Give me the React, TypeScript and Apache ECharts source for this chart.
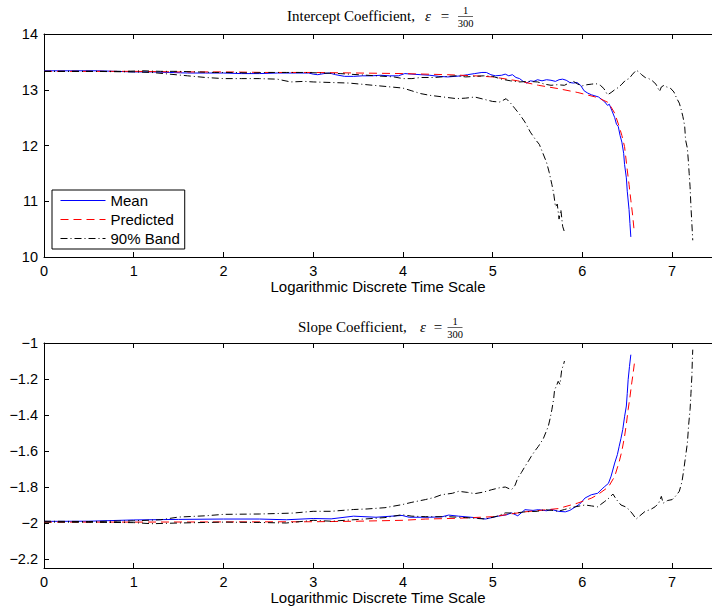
import React, { useEffect, useRef } from 'react';
import * as echarts from 'echarts';

// Tick positions
const xTicks = [0, 1, 2, 3, 4, 5, 6, 7];
const interceptTicks = [10, 11, 12, 13, 14];
const slopeTicks = [-2.2, -2, -1.8, -1.6, -1.4, -1.2, -1];

// Intercept coefficient: [log time, value]
const interceptMean = [
  [0, 13.34], [0.3, 13.34], [0.6, 13.34], [0.8, 13.33], [1.0, 13.32], [1.2, 13.32], [1.4, 13.31],
  [1.6, 13.3], [1.8, 13.3], [2.0, 13.3], [2.2, 13.29], [2.4, 13.29], [2.6, 13.3], [2.8, 13.3],
  [2.95, 13.3], [3.0, 13.28], [3.05, 13.27], [3.12, 13.29], [3.18, 13.3], [3.25, 13.27], [3.35, 13.24],
  [3.45, 13.24], [3.55, 13.25], [3.65, 13.25], [3.75, 13.26], [3.85, 13.25], [3.95, 13.25], [4.02, 13.29],
  [4.1, 13.28], [4.2, 13.27], [4.3, 13.26], [4.4, 13.24], [4.5, 13.23], [4.58, 13.24], [4.65, 13.25],
  [4.72, 13.27], [4.8, 13.29], [4.88, 13.31], [4.93, 13.31], [4.98, 13.27], [5.03, 13.25], [5.1, 13.26],
  [5.14, 13.28], [5.18, 13.25], [5.22, 13.27], [5.26, 13.22], [5.3, 13.2], [5.34, 13.15], [5.38, 13.12],
  [5.42, 13.16], [5.46, 13.15], [5.5, 13.18], [5.55, 13.16], [5.6, 13.18], [5.65, 13.17], [5.7, 13.15],
  [5.74, 13.18], [5.78, 13.19], [5.82, 13.17], [5.86, 13.13], [5.9, 13.12], [5.94, 13.13], [5.98, 13.08],
  [6.02, 12.98], [6.06, 12.94], [6.1, 12.91], [6.14, 12.89], [6.18, 12.87], [6.22, 12.82], [6.25, 12.78],
  [6.28, 12.72], [6.3, 12.74], [6.33, 12.62], [6.36, 12.5], [6.38, 12.38], [6.4, 12.34], [6.42, 12.18],
  [6.44, 12.06], [6.46, 11.86], [6.47, 11.66], [6.49, 11.42], [6.5, 11.18], [6.52, 10.85], [6.53, 10.6],
  [6.54, 10.36],
];
const interceptPredicted = [
  [0, 13.33], [0.5, 13.33], [1, 13.33], [1.5, 13.32], [2, 13.32], [2.5, 13.31], [3, 13.31], [3.5, 13.3],
  [4, 13.29], [4.5, 13.27], [4.8, 13.25], [5, 13.23], [5.28, 13.16], [5.51, 13.08], [5.73, 13.02],
  [5.95, 12.95], [6.17, 12.86], [6.29, 12.77], [6.36, 12.58], [6.41, 12.34], [6.44, 12.18], [6.47, 11.98],
  [6.5, 11.56], [6.52, 11.3], [6.54, 11.02], [6.56, 10.75], [6.575, 10.5],
];
const interceptBandHigh = [
  [0, 13.33], [0.5, 13.33], [0.9, 13.33], [1.1, 13.34], [1.3, 13.33], [1.5, 13.33], [1.7, 13.32],
  [1.9, 13.31], [2.1, 13.31], [2.3, 13.3], [2.5, 13.31], [2.7, 13.31], [2.9, 13.31], [3.1, 13.3],
  [3.3, 13.29], [3.5, 13.27], [3.7, 13.25], [3.9, 13.23], [4.0, 13.2], [4.1, 13.2], [4.2, 13.22],
  [4.35, 13.22], [4.5, 13.24], [4.6, 13.25], [4.7, 13.23], [4.8, 13.24], [4.9, 13.25], [5.0, 13.24],
  [5.1, 13.19], [5.2, 13.16], [5.3, 13.14], [5.4, 13.15], [5.5, 13.14], [5.58, 13.1], [5.65, 13.08],
  [5.72, 13.09], [5.8, 13.08], [5.85, 13.12], [5.9, 13.15], [5.95, 13.1], [6.0, 13.07], [6.05, 13.09],
  [6.1, 13.1], [6.15, 13.11], [6.2, 13.08], [6.24, 13.02], [6.28, 12.91], [6.32, 12.95], [6.36, 13.0],
  [6.4, 13.04], [6.44, 13.1], [6.48, 13.17], [6.52, 13.2], [6.56, 13.28], [6.6, 13.35], [6.63, 13.32],
  [6.66, 13.27], [6.7, 13.22], [6.74, 13.2], [6.78, 13.16], [6.82, 13.1], [6.86, 12.97], [6.88, 13.05],
  [6.91, 13.08], [6.94, 13.05], [6.98, 13.03], [7.02, 12.96], [7.05, 12.85], [7.08, 12.76], [7.1, 12.65],
  [7.12, 12.52], [7.14, 12.35], [7.15, 12.1], [7.17, 11.95], [7.18, 11.74], [7.19, 11.5], [7.2, 11.26],
  [7.21, 10.9], [7.22, 10.6], [7.23, 10.3],
];
const interceptBandLow = [
  [0, 13.33], [0.5, 13.33], [1.0, 13.32], [1.2, 13.31], [1.4, 13.28], [1.6, 13.25], [1.8, 13.22],
  [2.0, 13.2], [2.2, 13.2], [2.4, 13.2], [2.6, 13.19], [2.75, 13.14], [2.9, 13.15], [3.0, 13.14],
  [3.2, 13.13], [3.4, 13.12], [3.6, 13.09], [3.8, 13.06], [4.0, 13.03], [4.1, 12.98], [4.2, 12.93],
  [4.3, 12.9], [4.45, 12.87], [4.6, 12.84], [4.7, 12.85], [4.8, 12.87], [4.9, 12.83], [5.0, 12.79],
  [5.08, 12.78], [5.15, 12.84], [5.2, 12.76], [5.25, 12.66], [5.3, 12.56], [5.36, 12.42], [5.42, 12.24],
  [5.48, 12.1], [5.52, 12.02], [5.56, 11.86], [5.6, 11.7], [5.63, 11.52], [5.66, 11.3], [5.68, 11.14],
  [5.7, 10.9], [5.72, 10.95], [5.74, 10.68], [5.76, 10.85], [5.78, 10.55], [5.8, 10.45],
];

// Slope coefficient: [log time, value]
const slopeMean = [
  [0, -1.991], [0.5, -1.99], [1, -1.983], [1.5, -1.98], [2, -1.978], [2.4, -1.978], [2.7, -1.982],
  [3.0, -1.975], [3.2, -1.977], [3.45, -1.962], [3.7, -1.968], [3.99, -1.958], [4.07, -1.968],
  [4.3, -1.968], [4.43, -1.966], [4.51, -1.956], [4.62, -1.962], [4.8, -1.97], [4.92, -1.978],
  [5.06, -1.962], [5.15, -1.955], [5.21, -1.944], [5.28, -1.96], [5.36, -1.926], [5.45, -1.93],
  [5.51, -1.926], [5.6, -1.932], [5.66, -1.925], [5.73, -1.935], [5.81, -1.938], [5.86, -1.93],
  [5.92, -1.911], [5.97, -1.895], [6.03, -1.861], [6.1, -1.843], [6.17, -1.835], [6.22, -1.81],
  [6.25, -1.797], [6.29, -1.78], [6.32, -1.74], [6.36, -1.667], [6.39, -1.62], [6.41, -1.574],
  [6.43, -1.53], [6.45, -1.48], [6.47, -1.41], [6.49, -1.35], [6.5, -1.28], [6.51, -1.204],
  [6.525, -1.13], [6.54, -1.065],
];
const slopePredicted = [
  [0, -1.995], [1, -1.995], [2, -1.994], [3, -1.993], [3.5, -1.99], [4, -1.985], [4.25, -1.978],
  [4.6, -1.974], [5, -1.965], [5.36, -1.938], [5.73, -1.92], [5.95, -1.889], [6.1, -1.862],
  [6.17, -1.843], [6.29, -1.8], [6.36, -1.741], [6.41, -1.66], [6.44, -1.6], [6.47, -1.519],
  [6.49, -1.45], [6.51, -1.37], [6.53, -1.3], [6.55, -1.222], [6.565, -1.17], [6.58, -1.111],
];
const slopeBandHigh = [
  [0, -1.99], [0.5, -1.992], [1, -1.988], [1.3, -1.982], [1.5, -1.967], [1.8, -1.96], [2.0, -1.952],
  [2.4, -1.95], [2.77, -1.945], [3.0, -1.935], [3.2, -1.935], [3.45, -1.925], [3.6, -1.922],
  [3.8, -1.915], [3.99, -1.898], [4.1, -1.885], [4.25, -1.87], [4.35, -1.858], [4.43, -1.843],
  [4.55, -1.835], [4.62, -1.824], [4.72, -1.83], [4.8, -1.837], [4.9, -1.828], [4.99, -1.815],
  [5.07, -1.805], [5.14, -1.8], [5.21, -1.815], [5.25, -1.79], [5.28, -1.75], [5.32, -1.72],
  [5.36, -1.686], [5.4, -1.655], [5.43, -1.63], [5.47, -1.6], [5.51, -1.574], [5.54, -1.55],
  [5.56, -1.537], [5.59, -1.5], [5.62, -1.463], [5.64, -1.42], [5.66, -1.37], [5.68, -1.31],
  [5.69, -1.26], [5.71, -1.24], [5.73, -1.213], [5.75, -1.23], [5.77, -1.148], [5.79, -1.12],
  [5.8, -1.1],
];
const slopeBandLow = [
  [0, -1.995], [0.5, -1.996], [1, -1.998], [1.2, -2.004], [1.5, -2.0], [2, -1.995], [2.4, -1.997],
  [2.7, -2.0], [3.0, -1.985], [3.2, -1.99], [3.51, -1.98], [3.8, -1.97], [3.99, -1.954], [4.1, -1.962],
  [4.25, -1.965], [4.5, -1.965], [4.7, -1.97], [4.92, -1.978], [5.05, -1.962], [5.14, -1.944],
  [5.25, -1.945], [5.36, -1.938], [5.5, -1.935], [5.58, -1.926], [5.66, -1.93], [5.73, -1.935],
  [5.8, -1.925], [5.92, -1.91], [6.03, -1.9], [6.1, -1.905], [6.17, -1.91], [6.25, -1.88], [6.3, -1.86],
  [6.34, -1.839], [6.38, -1.87], [6.43, -1.9], [6.48, -1.91], [6.52, -1.926], [6.56, -1.95],
  [6.6, -1.978], [6.64, -1.96], [6.7, -1.935], [6.76, -1.925], [6.81, -1.91], [6.85, -1.89],
  [6.88, -1.852], [6.9, -1.89], [6.95, -1.875], [7.0, -1.87], [7.04, -1.85], [7.08, -1.824],
  [7.11, -1.77], [7.13, -1.704], [7.15, -1.63], [7.17, -1.556], [7.185, -1.45], [7.2, -1.37],
  [7.21, -1.28], [7.22, -1.185], [7.225, -1.1], [7.23, -1.037],
];

const SANS = '"Liberation Sans", Arial, Helvetica, sans-serif';
const SERIF = '"Liberation Serif", "Times New Roman", serif';
const X_MAX = 670 / 90;

const fmt = (v: number) => (v < 0 ? '\u2212' + String(Math.abs(v)) : String(v));

function xAxes(gridIndex: number) {
  const common = {
    gridIndex,
    type: 'value',
    min: 0,
    max: X_MAX,
    splitLine: { show: false },
    axisLine: { show: true, onZero: false, lineStyle: { color: '#000', width: 1 } },
    axisTick: { show: true, inside: true, length: 5, customValues: xTicks, lineStyle: { color: '#000' } },
  };
  return [
    {
      ...common,
      position: 'bottom',
      axisLabel: { customValues: xTicks, color: '#000', fontFamily: SANS, fontSize: 14.5, margin: 6, formatter: fmt },
      name: 'Logarithmic Discrete Time Scale',
      nameLocation: 'middle',
      nameGap: 22,
      nameTextStyle: { color: '#000', fontFamily: SANS, fontSize: 15 },
    },
    { ...common, position: 'top', axisLabel: { show: false } },
  ];
}

function yAxis(gridIndex: number, min: number, max: number, ticks: number[]) {
  return {
    gridIndex,
    type: 'value',
    min,
    max,
    splitLine: { show: false },
    axisLine: { show: true, onZero: false, lineStyle: { color: '#000', width: 1 } },
    axisTick: { show: true, inside: true, length: 5, customValues: ticks, lineStyle: { color: '#000' } },
    axisLabel: { customValues: ticks, color: '#000', fontFamily: SANS, fontSize: 14.5, margin: 6, formatter: fmt },
  };
}

const meanStyle = { color: '#0000ff', width: 1, type: 'solid' };
const predStyle = { color: '#ff0000', width: 1, type: [8, 5] };
const bandStyle = { color: '#000000', width: 1, type: [7, 3, 1, 3] };

function line(name: string, data: number[][], style: any, axisIdx: number) {
  return {
    type: 'line',
    name,
    data,
    xAxisIndex: axisIdx * 2,
    yAxisIndex: axisIdx,
    showSymbol: false,
    symbol: 'none',
    lineStyle: style,
    itemStyle: { color: style.color },
    silent: true,
  };
}

function title(label: string, textX: number, epsX: number, eqX: number, fracX: number, cy: number) {
  const main = { fill: '#000', fontFamily: SERIF, fontSize: 15 };
  return {
    type: 'group',
    children: [
      { type: 'text', x: textX, y: cy, style: { ...main, text: label, align: 'left', verticalAlign: 'middle' } },
      { type: 'text', x: epsX, y: cy, style: { ...main, text: '\u03b5', fontStyle: 'italic', align: 'center', verticalAlign: 'middle' } },
      { type: 'text', x: eqX, y: cy, style: { ...main, text: '=', align: 'center', verticalAlign: 'middle' } },
      { type: 'text', x: fracX, y: cy - 6, style: { ...main, fontSize: 10.5, text: '1', align: 'center', verticalAlign: 'middle' } },
      { type: 'line', shape: { x1: fracX - 7.5, y1: cy + 0.5, x2: fracX + 7.5, y2: cy + 0.5 }, style: { stroke: '#000', lineWidth: 0.6 } },
      { type: 'text', x: fracX, y: cy + 7, style: { ...main, fontSize: 10.5, text: '300', align: 'center', verticalAlign: 'middle' } },
    ],
  };
}

const legendEntry = (name: string, style: any) => ({
  name,
  itemStyle: { opacity: 0 },
  lineStyle: { color: style.color, width: 1, type: style.type, opacity: 1 },
});

export default function App() {
  const ref = useRef<HTMLDivElement>(null);
  useEffect(() => {
    const chart = echarts.init(ref.current!, null, { renderer: 'svg' });
    chart.setOption({
      animation: false,
      backgroundColor: '#ffffff',
      grid: [
        { left: 44, top: 34, width: 670, height: 223 },
        { left: 44, top: 343, width: 670, height: 225 },
      ],
      xAxis: [...xAxes(0), ...xAxes(1)],
      yAxis: [yAxis(0, 10, 14, interceptTicks), yAxis(1, -2.25, -1, slopeTicks)],
      legend: {
        data: [
          legendEntry('Mean', meanStyle),
          legendEntry('Predicted', predStyle),
          legendEntry('90% Band', bandStyle),
        ],
        orient: 'vertical',
        left: 52,
        top: 190,
        backgroundColor: '#ffffff',
        borderColor: '#000000',
        borderWidth: 1,
        borderRadius: 0,
        padding: [3, 5, 3, 8],
        itemWidth: 45,
        itemHeight: 11,
        itemGap: 4,
        selectedMode: false,
        textStyle: { color: '#000', fontFamily: SANS, fontSize: 15 },
        z: 10,
      },
      graphic: [
        title('Intercept Coefficient,', 287, 428, 445, 465.5, 16),
        title('Slope Coefficient,', 298, 423, 438, 455, 327),
      ],
      series: [
        line('Mean', interceptMean, meanStyle, 0),
        line('Predicted', interceptPredicted, predStyle, 0),
        line('90% Band', interceptBandHigh, bandStyle, 0),
        line('90% Band', interceptBandLow, bandStyle, 0),
        line('Mean', slopeMean, meanStyle, 1),
        line('Predicted', slopePredicted, predStyle, 1),
        line('90% Band', slopeBandHigh, bandStyle, 1),
        line('90% Band', slopeBandLow, bandStyle, 1),
      ],
    });
    return () => chart.dispose();
  }, []);
  return (
    <div
      ref={ref}
      style={{ position: 'fixed', left: 0, top: 0, width: 712, height: 608, background: '#fff' }}
    />
  );
}
